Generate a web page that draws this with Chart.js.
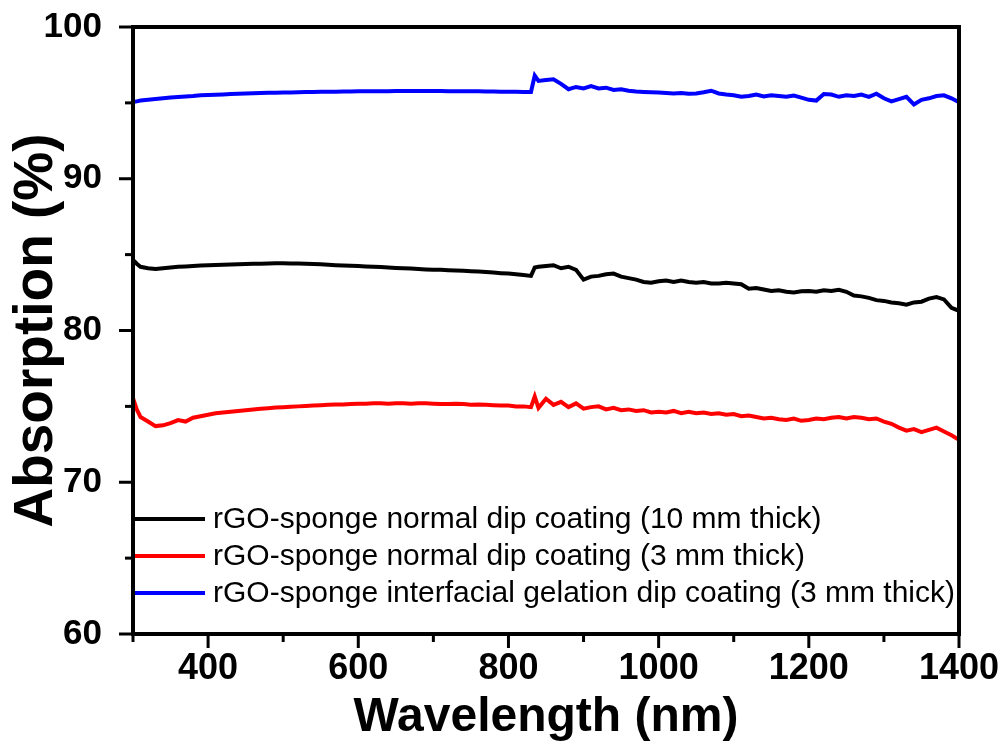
<!DOCTYPE html>
<html>
<head>
<meta charset="utf-8">
<script src="https://cdn.jsdelivr.net/npm/chart.js@4.4.1/dist/chart.umd.min.js"></script>
<style>
  html, body { margin: 0; padding: 0; background: #fff; }
</style>
</head>
<body>
<canvas id="absorption-chart" width="1005" height="751"></canvas>
<script>
// wavelengths in nm (shared by all three spectra)
const wavelengths = [
    300, 305, 310, 320, 330, 340, 350, 360, 370, 380, 390,
    400, 410, 420, 430, 440, 450, 460, 470, 480, 490,
    500, 510, 520, 530, 540, 550, 560, 570, 580, 590,
    600, 610, 620, 630, 640, 650, 660, 670, 680, 690,
    700, 710, 720, 730, 740, 750, 760, 770, 780, 790,
    800, 810, 820, 830, 835, 840, 850, 860, 870, 880, 890,
    900, 910, 920, 930, 940, 950, 960, 970, 980, 990,
    1000, 1010, 1020, 1030, 1040, 1050, 1060, 1070, 1080, 1090,
    1100, 1110, 1120, 1130, 1140, 1150, 1160, 1170, 1180, 1190,
    1200, 1210, 1220, 1230, 1240, 1250, 1260, 1270, 1280, 1290,
    1300, 1310, 1320, 1330, 1340, 1350, 1360, 1370, 1380, 1390,
    1400
];

const normal10mm = [
    84.65, 84.4, 84.2, 84.1, 84.05, 84.1, 84.15, 84.2, 84.22, 84.25, 84.28,
    84.3, 84.32, 84.34, 84.35, 84.36, 84.38, 84.4, 84.4, 84.42, 84.43,
    84.43, 84.42, 84.42, 84.4, 84.38, 84.36, 84.33, 84.3, 84.28, 84.26,
    84.25, 84.22, 84.2, 84.18, 84.15, 84.12, 84.1, 84.08, 84.05, 84.02,
    84.0, 84.0, 83.97, 83.95, 83.93, 83.9, 83.88, 83.85, 83.82, 83.78,
    83.75, 83.7, 83.65, 83.6, 84.15, 84.2, 84.25, 84.3, 84.1, 84.2, 84.0,
    83.35, 83.55, 83.6, 83.7, 83.75, 83.55, 83.45, 83.35, 83.2, 83.15,
    83.25, 83.3, 83.2, 83.3, 83.2, 83.15, 83.2, 83.1, 83.1, 83.15,
    83.1, 83.05, 82.75, 82.8, 82.7, 82.6, 82.65, 82.55, 82.5, 82.58,
    82.6, 82.55, 82.65, 82.6, 82.68, 82.55, 82.3, 82.25, 82.15, 82.0,
    81.95, 81.85, 81.8, 81.7, 81.85, 81.9, 82.1, 82.2, 82.05, 81.5,
    81.3
];

const normal3mm = [
    75.55, 74.8, 74.3, 74.0, 73.7, 73.75, 73.9, 74.1, 74.0, 74.25, 74.35,
    74.45, 74.55, 74.6, 74.65, 74.7, 74.75, 74.8, 74.85, 74.88, 74.92,
    74.95, 74.98, 75.0, 75.03, 75.05, 75.07, 75.1, 75.12, 75.13, 75.15,
    75.17, 75.18, 75.2, 75.2, 75.18, 75.2, 75.2, 75.18, 75.2, 75.2,
    75.18, 75.15, 75.15, 75.17, 75.15, 75.1, 75.12, 75.1, 75.08, 75.05,
    75.05, 75.0, 75.0, 74.95, 75.65, 74.9, 75.5, 75.1, 75.3, 74.95, 75.2,
    74.85, 74.95, 75.0, 74.8, 74.9, 74.75, 74.8, 74.7, 74.75, 74.6,
    74.65, 74.6, 74.7, 74.55, 74.65, 74.55, 74.6, 74.5, 74.55, 74.45,
    74.5, 74.35, 74.4, 74.3, 74.2, 74.25, 74.15, 74.1, 74.2, 74.05,
    74.1, 74.2, 74.15, 74.25, 74.3, 74.2, 74.3, 74.25, 74.15, 74.2,
    74.0, 73.85, 73.6, 73.4, 73.5, 73.3, 73.45, 73.6, 73.35, 73.1,
    72.8
];

const gelation3mm = [
    95.05, 95.1, 95.15, 95.2, 95.25, 95.3, 95.35, 95.38, 95.42, 95.45, 95.5,
    95.52, 95.54, 95.56, 95.58, 95.6, 95.62, 95.63, 95.65, 95.66, 95.67,
    95.68, 95.69, 95.7, 95.71, 95.72, 95.73, 95.74, 95.74, 95.75, 95.75,
    95.76, 95.76, 95.77, 95.77, 95.77, 95.78, 95.78, 95.78, 95.78, 95.78,
    95.78, 95.78, 95.77, 95.77, 95.77, 95.76, 95.76, 95.75, 95.75, 95.74,
    95.74, 95.73, 95.72, 95.72, 96.8, 96.45, 96.5, 96.55, 96.25, 95.9, 96.05,
    95.95, 96.1, 95.95, 96.0, 95.85, 95.9, 95.8, 95.75, 95.72, 95.7,
    95.68, 95.65, 95.62, 95.65, 95.6, 95.62, 95.7, 95.8, 95.62, 95.55,
    95.5, 95.4, 95.45, 95.55, 95.42, 95.5, 95.45, 95.4, 95.48, 95.35,
    95.2, 95.15, 95.58, 95.55, 95.4, 95.5, 95.45, 95.55, 95.4, 95.6,
    95.3, 95.1, 95.25, 95.4, 94.9, 95.2, 95.3, 95.45, 95.5, 95.3,
    95.05
];

const seriesLabels = [
    'rGO-sponge normal dip coating (10 mm thick)',
    'rGO-sponge normal dip coating (3 mm thick)',
    'rGO-sponge interfacial gelation dip coating (3 mm thick)'
];
const seriesColors = ['#000000', '#ff0000', '#0000ff'];
const seriesValues = [normal10mm, normal3mm, gelation3mm];

const xLabelTicks = [400, 600, 800, 1000, 1200, 1400];
const yLabelTicks = [60, 70, 80, 90, 100];

const toPoints = values => wavelengths.map((w, i) => ({x: w, y: values[i]}));
const FONT = '"Liberation Sans", Arial, sans-serif';

// box frame + outward major/minor ticks, drawn on top of the lines
const frameAndTicks = {
    id: 'frameAndTicks',
    afterDatasetsDraw(chart) {
        const {ctx, chartArea: a, scales} = chart;
        ctx.save();
        ctx.strokeStyle = '#000';
        ctx.lineWidth = 4;
        ctx.strokeRect(a.left, a.top, a.right - a.left, a.bottom - a.top);

        ctx.lineWidth = 3;
        scales.x.ticks.forEach(t => {
            const px = scales.x.getPixelForValue(t.value);
            const len = t.value % 200 === 0 ? 14 : 8;
            ctx.beginPath();
            ctx.moveTo(px, a.bottom);
            ctx.lineTo(px, a.bottom + len);
            ctx.stroke();
        });
        scales.y.ticks.forEach(t => {
            const py = scales.y.getPixelForValue(t.value);
            const len = t.value % 10 === 0 ? 14 : 8;
            ctx.beginPath();
            ctx.moveTo(a.left, py);
            ctx.lineTo(a.left - len, py);
            ctx.stroke();
        });
        ctx.restore();
    }
};

// legend drawn inside the plot, lower left
const insideLegend = {
    id: 'insideLegend',
    afterDatasetsDraw(chart) {
        const {ctx, chartArea: a} = chart;
        const rows = [-115, -78, -41];
        ctx.save();
        ctx.font = '30px ' + FONT;
        ctx.textBaseline = 'middle';
        chart.data.datasets.forEach((ds, i) => {
            const y = a.bottom + rows[i];
            ctx.strokeStyle = ds.borderColor;
            ctx.lineWidth = 4;
            ctx.beginPath();
            ctx.moveTo(a.left + 2, y);
            ctx.lineTo(a.left + 72, y);
            ctx.stroke();
            ctx.fillStyle = '#000';
            ctx.fillText(ds.label, a.left + 80, y + 1);
        });
        ctx.restore();
    }
};

new Chart('absorption-chart', {
    type: 'line',
    data: {
        datasets: seriesValues.map((values, i) => ({
            label: seriesLabels[i],
            data: toPoints(values),
            borderColor: seriesColors[i],
            backgroundColor: seriesColors[i],
            borderWidth: 4,
            pointRadius: 0,
            tension: 0,
        })),
    },
    options: {
        responsive: false,
        animation: false,
        layout: {
            padding: {top: 27, right: 46, left: 0, bottom: 0}
        },
        scales: {
            x: {
                type: 'linear',
                min: 300,
                max: 1400,
                grid: {display: false},
                border: {display: false},
                afterFit: scale => {
                    scale.height = 117;
                    scale.paddingLeft = 0;
                    scale.paddingRight = 0;
                },
                ticks: {
                    stepSize: 100,
                    autoSkip: false,
                    maxRotation: 0,
                    padding: 5,
                    color: '#000',
                    font: {family: FONT, size: 36, weight: 'bold'},
                    callback: v => xLabelTicks.includes(v) ? v : ''
                },
                title: {
                    display: true,
                    text: 'Wavelength (nm)',
                    color: '#000',
                    padding: {top: 0, bottom: 4},
                    font: {family: FONT, size: 48, weight: 'bold'}
                }
            },
            y: {
                min: 60,
                max: 100,
                grid: {display: false},
                border: {display: false},
                afterFit: scale => {
                    scale.width = 133;
                    scale.paddingTop = 0;
                    scale.paddingBottom = 0;
                },
                ticks: {
                    stepSize: 5,
                    autoSkip: false,
                    padding: 23,
                    color: '#000',
                    font: {family: FONT, size: 35, weight: 'bold'},
                    callback: v => yLabelTicks.includes(v) ? v : ''
                },
                title: {
                    display: true,
                    text: 'Absorption (%)',
                    color: '#000',
                    padding: {top: 4, bottom: 0},
                    font: {family: FONT, size: 55, weight: 'bold'}
                }
            }
        },
        plugins: {
            legend: {display: false},
            tooltip: {enabled: false}
        }
    },
    plugins: [frameAndTicks, insideLegend]
});
</script>
</body>
</html>
